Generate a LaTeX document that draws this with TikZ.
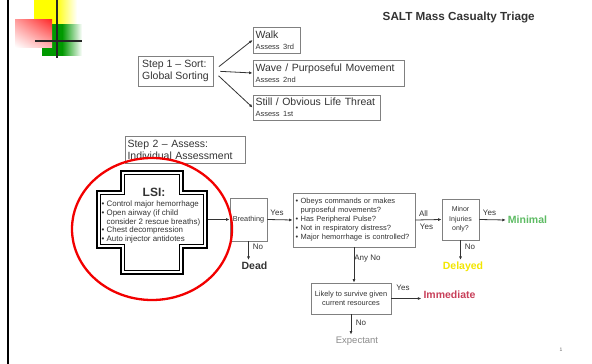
\documentclass[tikz,border=0pt]{standalone}
\usepackage{fontspec}
\setmainfont{Liberation Sans}
\usetikzlibrary{arrows.meta,shadings}
\definecolor{ink}{HTML}{333333}
\definecolor{boxline}{HTML}{808080}
\definecolor{immred}{HTML}{C8405A}
\definecolor{mingreen}{HTML}{5DBB63}
\definecolor{delyellow}{HTML}{F2E600}
\definecolor{expgray}{HTML}{8C8C8C}
\definecolor{logogreen}{HTML}{009900}
\newcommand{\fsz}[2]{\fontsize{#1}{#2}\selectfont}
\begin{document}
\begin{tikzpicture}[x=1pt,y=-1pt,
  box/.style={draw=boxline, line width=0.8pt, text=ink, inner xsep=2.5pt, inner ysep=0pt},
  outcome/.style={font=\bfseries\fsz{10.5}{12}, inner sep=2pt},
  lbl/.style={font=\fsz{8}{9}, text=ink, inner sep=0pt},
  flow/.style={draw=ink, line width=0.8pt, -{Latex[length=3.5pt,width=3pt]}}]
\useasboundingbox (0,0) rectangle (592,364);

% corner logo: shaded squares and crosshair
\shade[left color=yellow, right color=white, middle color=yellow] (34,0) rectangle (77,35);
\shade[left color=logogreen, right color=white, middle color=logogreen] (42,24) rectangle (82,55);
\shade[upper right=red!85, upper left=red!40, lower right=red!30, lower left=white] (15,19) rectangle (52,47);
\draw[line width=2.8pt, black!85] (57,0) -- (57,58) (35,41) -- (82,41);
% left rule
\draw[line width=2pt, black] (8.3,0) -- (8.3,364);

% title
\node[font=\bfseries\fsz{11.7}{13}, text=ink] (title) at (458.7,18) {SALT Mass Casualty Triage};

% step 1: global sorting
\node[box, minimum width=75, minimum height=30, align=left, font=\fsz{10.5}{12}] (s1) at (175.5,71) {Step 1 -- Sort:\\Global Sorting};
\node[box, minimum width=47, minimum height=26, text width=42, align=left, font=\fsz{10.5}{11}] (walk) at (276.5,40) {Walk\\{\fsz{7.5}{9}Assess 3rd}};
\node[box, minimum width=151, minimum height=26, text width=146, align=left, font=\fsz{10.5}{11}] (wave) at (328.5,73) {Wave / Purposeful Movement\\{\fsz{7.5}{9}Assess 2nd}};
\node[box, minimum width=127, minimum height=25, text width=122, align=left, font=\fsz{10.5}{11}] (still) at (316.5,107.5) {Still / Obvious Life Threat\\{\fsz{7.5}{9}Assess 1st}};
\foreach \t in {walk,wave,still}
  \draw[flow, shorten <=7pt] (s1.east) -- (\t.west);

% step 2: individual assessment
\node[box, minimum width=120, minimum height=27, text width=115, align=left, font=\fsz{10.5}{12}] (s2) at (185,149.5) {Step 2 -- Assess:\\Individual Assessment};

% LSI cross (double outline)
\draw[line width=2.2pt, black] (121,171) -- (183,171) -- (183,191) -- (207,191) -- (207,248) -- (183,248) -- (183,274) -- (121,274) -- (121,248) -- (97,248) -- (97,191) -- (121,191) -- cycle;
\draw[line width=0.9pt, black] (124.5,174.5) -- (179.5,174.5) -- (179.5,194.5) -- (203.5,194.5) -- (203.5,244.5) -- (179.5,244.5) -- (179.5,270.5) -- (124.5,270.5) -- (124.5,244.5) -- (100.5,244.5) -- (100.5,194.5) -- (124.5,194.5) -- cycle;
\node[font=\bfseries\fsz{12}{13}, text=ink] (lsi) at (154,192) {LSI:};
\node[anchor=north west, font=\fsz{7.9}{8.8}, text=ink, align=left, inner sep=0pt] (lsilist) at (101.5,200.5)
  {• Control major hemorrhage\\• Open airway (if child\\\phantom{• }consider 2 rescue breaths)\\• Chest decompression\\• Auto injector antidotes};
\coordinate (lsiR) at (208,219.5);

% assessment boxes
\node[box, minimum width=37, minimum height=43, inner xsep=0pt, font=\fsz{7.3}{9}] (breath) at (248.5,219.5) {Breathing};
\node[box, minimum width=122, minimum height=54, text width=117, align=left, font=\fsz{7.5}{9}] (obs) at (354,220)
  {• Obeys commands or makes\\\phantom{• }purposeful movements?\\• Has Peripheral Pulse?\\• Not in respiratory distress?\\• Major hemorrhage is controlled?};
\node[box, minimum width=37, minimum height=41, inner xsep=0pt, align=center, font=\fsz{7}{9.5}] (minor) at (460.5,219.5) {Minor\\Injuries\\only?};
\node[box, minimum width=80, minimum height=31, inner xsep=0pt, align=center, font=\fsz{7.4}{8.8}] (likely) at (351,298.5) {Likely to survive given\\current resources};

% outcomes
\node[outcome, text=ink] (dead) at (254.5,266) {Dead};
\node[outcome, text=mingreen] (minimal) at (527.5,220) {Minimal};
\node[outcome, text=delyellow] (delayed) at (463,267) {Delayed};
\node[outcome, text=immred] (immediate) at (449.5,295) {Immediate};
\node[font=\fsz{9.5}{11}, text=expgray, inner sep=2pt] (expectant) at (357,341) {Expectant};

% connectors
\draw[flow] (lsiR) -- (breath.west);
\draw[flow] (breath.east) -- (obs.west);
\draw[flow] (breath.south) -- (breath.south |- dead.north);
\draw[flow] (obs.south) -- (obs.south |- likely.north);
\draw[flow] (obs.east) -- (minor.west);
\draw[flow] (minor.east) -- (minimal.west);
\draw[flow] (minor.south) -- (minor.south |- delayed.north);
\draw[flow] (likely.east) -- (likely.east -| immediate.west);
\draw[flow] (likely.south) -- (likely.south |- expectant.north);

% connector labels
\node[lbl] (l1) at (277,213) {Yes};
\node[lbl] (l2) at (258,247) {No};
\node[lbl] (l3) at (367.5,259) {Any No};
\node[lbl] (l4) at (423.5,214) {All};
\node[lbl] (l5) at (426.5,227) {Yes};
\node[lbl] (l6) at (489.5,213) {Yes};
\node[lbl] (l7) at (470,247) {No};
\node[lbl] (l8) at (403,288) {Yes};
\node[lbl] (l9) at (361,323) {No};

% highlight ring around the LSI cross
\draw[line width=2.3pt, red!95!black] (152,229) ellipse [x radius=80, y radius=71];

% page number
\node[font=\fsz{5}{6}, text=black!60, inner sep=0pt] (pg) at (561,350) {1};
\end{tikzpicture}
\end{document}
